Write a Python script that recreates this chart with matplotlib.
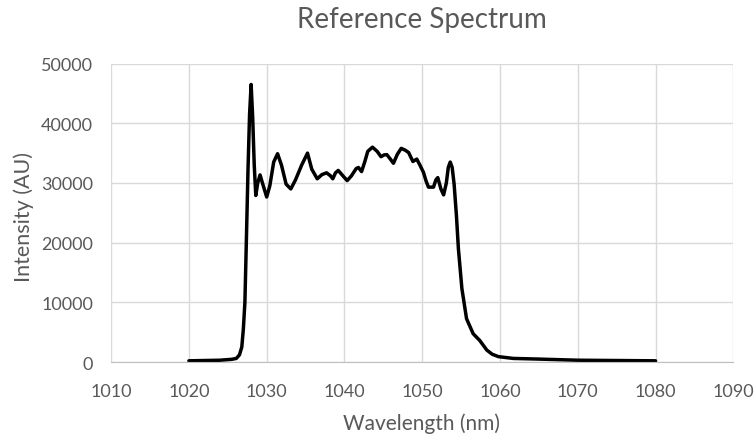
import matplotlib
matplotlib.use("Agg")
import matplotlib.pyplot as plt

# Valores (comprimento de onda em nm, intensidade em AU)
wavelength = [1020.0, 1022.0, 1024.0, 1025.5, 1026.1, 1026.5, 1026.8, 1027.0, 1027.2,
              1027.4, 1027.6, 1027.8, 1028.0, 1028.2, 1028.4, 1028.6, 1028.85, 1029.15,
              1029.5, 1030.0, 1030.4, 1030.9, 1031.4, 1031.9, 1032.5, 1033.1, 1033.7,
              1034.5, 1035.25, 1035.8, 1036.5, 1037.1, 1037.7, 1038.2, 1038.5, 1038.85,
              1039.2, 1039.8, 1040.35, 1040.9, 1041.5, 1041.8, 1042.2, 1042.6, 1043.0,
              1043.6, 1044.2, 1044.7, 1045.1, 1045.45, 1045.9, 1046.3, 1046.8, 1047.3,
              1047.8, 1048.25, 1048.8, 1049.3, 1049.7, 1050.15, 1050.5, 1050.8, 1051.45,
              1051.75, 1052.0, 1052.4, 1052.75, 1053.1, 1053.35, 1053.6, 1053.85, 1054.1,
              1054.4, 1054.65, 1055.1, 1055.7, 1056.55, 1057.4, 1058.3, 1059.0, 1059.8,
              1061.7, 1064.7, 1070.0, 1080.0]
intensity = [200, 250, 300, 450, 600, 1200, 2500, 5500, 10000,
             21000, 32300, 41500, 46500, 41000, 33000, 27900, 30000, 31350,
             29800, 27650, 29500, 33500, 34900, 33000, 29800, 29000, 30500,
             33000, 35000, 32300, 30700, 31400, 31700, 31200, 30700, 31700,
             32100, 31200, 30400, 31200, 32400, 32600, 31900, 33500, 35300,
             36000, 35300, 34400, 34700, 34750, 34000, 33300, 34800, 35800,
             35500, 35100, 33600, 34000, 33000, 31800, 30300, 29300, 29300,
             30500, 30900, 29000, 28000, 30000, 32600, 33500, 32600, 29800,
             24500, 19000, 12300, 7250, 4740, 3600, 2000, 1300, 900,
             600, 500, 300, 200]

xticks = [1010, 1020, 1030, 1040, 1050, 1060, 1070, 1080, 1090]
yticks = [0, 10000, 20000, 30000, 40000, 50000]

texto = '#595959'
grade = '#d9d9d9'

plt.rcParams['font.family'] = ['Lato', 'DejaVu Sans']

fig = plt.figure(figsize=(7.56, 4.35), dpi=100)
ax = fig.add_axes([0.147, 0.1655, 0.823, 0.686])

ax.plot(wavelength, intensity, color='black', linewidth=2.5,
        solid_joinstyle='round', solid_capstyle='round')

ax.set_xlim(1010, 1090)
ax.set_ylim(0, 50000)
ax.set_xticks(xticks)
ax.set_yticks(yticks)
ax.set_xticklabels([str(v) for v in xticks])
ax.set_yticklabels([str(v) for v in yticks])

ax.grid(True, color=grade, linewidth=1)
ax.set_axisbelow(True)
for lado in ['top', 'right', 'left']:
    ax.spines[lado].set_visible(False)
ax.spines['bottom'].set_color('#bfbfbf')
ax.tick_params(length=0, labelsize=13, colors=texto)
ax.tick_params(axis='x', pad=15)
ax.tick_params(axis='y', pad=13)

# Títulos posicionados como no original
ax.set_title('Reference Spectrum', fontsize=20, color=texto, pad=26)
fig.text(0.558, 0.0115, 'Wavelength (nm)', fontsize=15, color=texto,
         ha='center', va='baseline')
fig.text(0.031, 0.5, 'Intensity (AU)', fontsize=15.5, color=texto,
         ha='center', va='center', rotation=90)

plt.savefig('out.png', dpi=100)
